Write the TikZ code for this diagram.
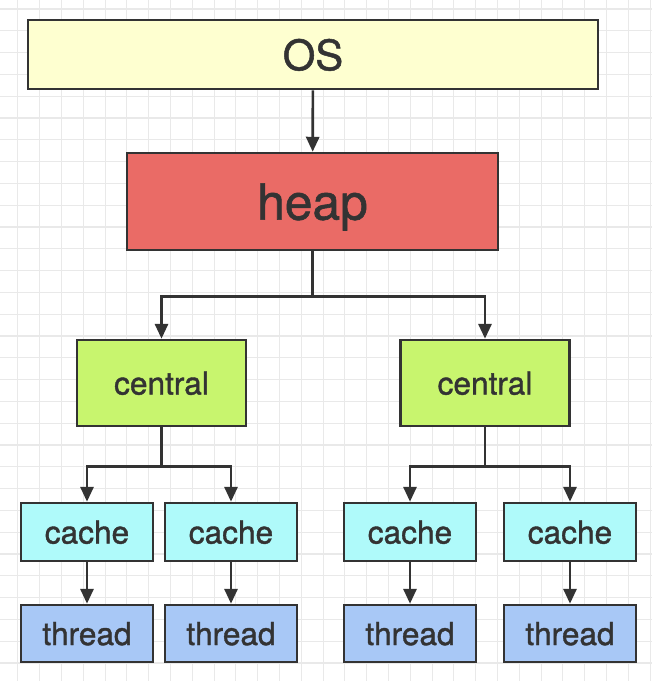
\documentclass[tikz,border=0pt]{standalone}
\usepackage{fontspec}
\setmainfont{TeX Gyre Heros}[FakeBold=1.2]
\usepackage{tikz}
\usetikzlibrary{positioning,arrows.meta}

\definecolor{osfill}{HTML}{FEFFD0}
\definecolor{heapfill}{HTML}{EA6B66}
\definecolor{centralfill}{HTML}{C8F56E}
\definecolor{cachefill}{HTML}{AFFAFA}
\definecolor{threadfill}{HTML}{A8C8F6}
\definecolor{edge}{HTML}{333333}
\definecolor{gridline}{HTML}{E9E9E9}

\tikzset{
  box/.style={draw=edge, line width=1.5pt, text=edge, inner sep=0pt, text depth=0pt},
  arr/.style={draw=edge, line width=1.5pt, -{Triangle[length=8.5pt,width=7.5pt]}}
}

\begin{document}
\begin{tikzpicture}[x=0.02cm, y=-0.02cm]
\useasboundingbox (0,0) rectangle (652,681);
% background grid
\foreach \gx in {17.9,39.7,...,652} \draw[gridline, line width=0.6pt] (\gx,0) -- (\gx,681);
\foreach \gy in {9,30.8,...,681} \draw[gridline, line width=0.6pt] (0,\gy) -- (652,\gy);

% top levels
\node[box, fill=osfill, minimum width=11.4cm, minimum height=1.38cm, font=\fontsize{23.8}{26}\selectfont] (os) at (313,54.5) {OS};
\node[box, fill=heapfill, minimum width=7.42cm, minimum height=1.94cm, font=\fontsize{28.3}{30}\selectfont] (heap) at (312.5,201.5) {heap};

% central caches
\node[box, fill=centralfill, minimum width=3.38cm, minimum height=1.72cm, font=\fontsize{18}{20}\selectfont] (cenL) at (161.5,383) {central};
\node[box, fill=centralfill, minimum width=3.38cm, minimum height=1.72cm, font=\fontsize{18}{20}\selectfont] (cenR) at (485,383) {central};

% thread caches and threads
\foreach \name/\cx in {a/87, b/231, c/410, d/570} {
  \node[box, fill=cachefill, minimum width=2.64cm, minimum height=1.16cm, font=\fontsize{18}{20}\selectfont] (cache\name) at (\cx,532) {cache};
  \node[box, fill=threadfill, minimum width=2.64cm, minimum height=1.14cm, font=\fontsize{18}{20}\selectfont] (thread\name) at (\cx,633.5) {thread};
  \draw[arr] (cache\name) -- (thread\name);
}

% connectors
\draw[arr] (os) -- (heap);
\draw[arr] (heap.south) -- ++(0,45) -| (cenL);
\draw[arr] (heap.south) -- ++(0,45) -| (cenR);
\draw[arr] (cenL.south) -- ++(0,39) -| (cachea);
\draw[arr] (cenL.south) -- ++(0,39) -| (cacheb);
\draw[arr] (cenR.south) -- ++(0,39) -| (cachec);
\draw[arr] (cenR.south) -- ++(0,39) -| (cached);
\end{tikzpicture}
\end{document}
